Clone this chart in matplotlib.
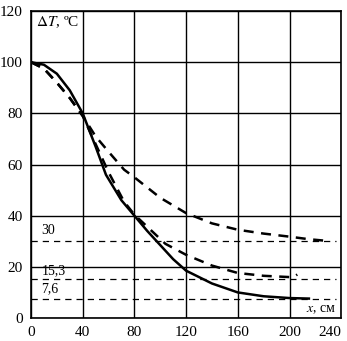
import matplotlib.pyplot as plt

plt.rcParams['font.family'] = ['Liberation Serif', 'DejaVu Serif']

# ---- data ----
x_solid = [0, 10, 20, 30, 40, 50, 58, 70, 80, 90, 100, 110, 120, 140, 160, 180, 200, 215]
t_solid = [100, 99, 95.5, 89, 80, 67, 56, 46, 40, 34, 28.5, 23, 18.5, 13.5, 10, 8.5, 7.8, 7.6]

x_upper = [0, 10, 20, 30, 40, 50, 60, 72, 80, 100, 120, 140, 160, 180, 200, 215, 228]
t_upper = [100, 97.5, 92, 86, 79, 71, 65, 58, 55, 47, 41, 37, 34.5, 33, 31.8, 30.8, 30.2]

x_middle = [0, 10, 20, 30, 40, 50, 60, 72, 80, 104, 120, 140, 160, 180, 200, 203, 206]
t_middle = [100, 97.5, 92, 86, 79, 68, 57, 45.5, 40.4, 29, 24.7, 20.5, 17.6, 16.5, 16, 16, 17]

steady = [30, 15.3, 7.6]
steady_labels = ['30', '15,3', '7,6']

# ---- figure ----
fig = plt.figure(figsize=(3.47, 3.41), dpi=100)
ax = fig.add_axes([0.0893, 0.0674, 0.894, 0.9003])

ax.set_xlim(0, 240)
ax.set_ylim(0, 120)
ax.set_xticks(range(0, 241, 40))
ax.set_yticks(range(0, 121, 20))
ax.grid(True, color='black', linewidth=1.0)
ax.set_axisbelow(True)
ax.tick_params(length=0, labelsize=11, pad=6)
ax.get_xticklabels()[-1].set_horizontalalignment('right')
for s in ax.spines.values():
    s.set_linewidth(1.2)

# steady-state levels
for v in steady:
    ax.plot([0, 236], [v, v], color='black', lw=0.9, dashes=(5, 4))
ax.text(8, 31.5, steady_labels[0], fontsize=10, va='bottom')
ax.text(8, 16.0, steady_labels[1], fontsize=10, va='bottom')
ax.text(8, 9.0, steady_labels[2], fontsize=10, va='bottom')

ax.plot(x_upper, t_upper, color='black', lw=1.8, dashes=(4, 3))
ax.plot(x_middle, t_middle, color='black', lw=1.8, dashes=(4, 3))
ax.plot(x_solid, t_solid, color='black', lw=1.8)

ax.text(4, 115.5, r'$\Delta\mathit{T}$, ºC', fontsize=11, va='center',
        math_fontfamily='stix')
ax.text(236, 3.5, r'$\mathit{x}$, см', fontsize=10, ha='right', va='center',
        math_fontfamily='stix',
        bbox=dict(facecolor='white', edgecolor='none', pad=0.5))

fig.savefig('out.png', dpi=100)
